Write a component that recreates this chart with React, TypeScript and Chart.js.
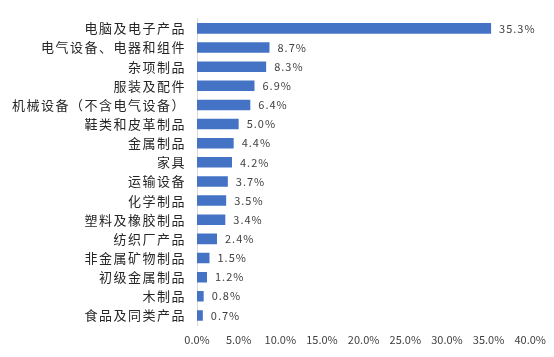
import React, { useEffect, useRef } from "react";
import { Chart, registerables } from "chart.js";

Chart.register(...registerables);

const categories = [
  "电脑及电子产品",
  "电气设备、电器和组件",
  "杂项制品",
  "服装及配件",
  "机械设备（不含电气设备）",
  "鞋类和皮革制品",
  "金属制品",
  "家具",
  "运输设备",
  "化学制品",
  "塑料及橡胶制品",
  "纺织厂产品",
  "非金属矿物制品",
  "初级金属制品",
  "木制品",
  "食品及同类产品",
];

const values = [35.3, 8.7, 8.3, 6.9, 6.4, 5.0, 4.4, 4.2, 3.7, 3.5, 3.4, 2.4, 1.5, 1.2, 0.8, 0.7];

const xTickMin = 0;
const xTickMax = 40;
const xTickStep = 5;

const FONT = "'Noto Sans CJK SC', 'Noto Sans', sans-serif";

function withSpacing(s: any, spacing: string) {
  if (s.__patched) return;
  s.__patched = true;
  const orig = s.draw.bind(s);
  s.draw = (area: any) => {
    const ctx = s.ctx;
    const prev = ctx.letterSpacing;
    ctx.letterSpacing = spacing;
    orig(area);
    ctx.letterSpacing = prev || "0px";
  };
}

const labelPlugin = {
  id: "barLabels",
  afterDatasetsDraw(chart: any) {
    const ctx = chart.ctx;
    const meta = chart.getDatasetMeta(0);
    ctx.save();
    (ctx as any).letterSpacing = "1px";
    ctx.font = `11px ${FONT}`;
    ctx.fillStyle = "#404040";
    ctx.textAlign = "left";
    ctx.textBaseline = "middle";
    meta.data.forEach((bar: any, i: number) => {
      ctx.fillText(values[i].toFixed(1) + "%", bar.x + 8, bar.y);
    });
    ctx.restore();
  },
};

export default function App() {
  const ref = useRef<HTMLCanvasElement | null>(null);

  useEffect(() => {
    document.body.style.margin = "0";
    if (!ref.current) return;
    const chart = new Chart(ref.current, {
      type: "bar",
      data: {
        labels: categories,
        datasets: [
          {
            data: values,
            backgroundColor: "#4472C4",
            barPercentage: 0.55,
            categoryPercentage: 1,
          },
        ],
      },
      options: {
        indexAxis: "y",
        animation: false,
        responsive: false,
        maintainAspectRatio: false,
        layout: { padding: { top: 13, right: 22, left: 0, bottom: 0 } },
        plugins: {
          legend: { display: false },
          tooltip: { enabled: false },
        },
        scales: {
          x: {
            min: xTickMin,
            max: xTickMax,
            ticks: {
              stepSize: xTickStep,
              padding: 8,
              color: "#404040",
              font: { family: FONT, size: 11 },
              maxRotation: 0,
              callback: (v: any) => Number(v).toFixed(1) + "%",
            },
            grid: { display: false, drawTicks: false },
            border: { display: false },
            afterFit: (s: any) => {
              s.height = 32;
              withSpacing(s, "0px");
            },
          },
          y: {
            ticks: {
              padding: 11,
              color: "#262626",
              font: { family: FONT, size: 13 },
              autoSkip: false,
            },
            grid: { display: false, drawTicks: false },
            border: { display: true, color: "#d9d9d9", width: 1 },
            afterFit: (s: any) => {
              s.width = 197;
              withSpacing(s, "1.5px");
            },
          },
        },
      },
      plugins: [labelPlugin],
    });
    return () => chart.destroy();
  }, []);

  return (
    <div style={{ width: 554, height: 357, background: "#fff" }}>
      <canvas ref={ref} width={554} height={357} />
    </div>
  );
}
